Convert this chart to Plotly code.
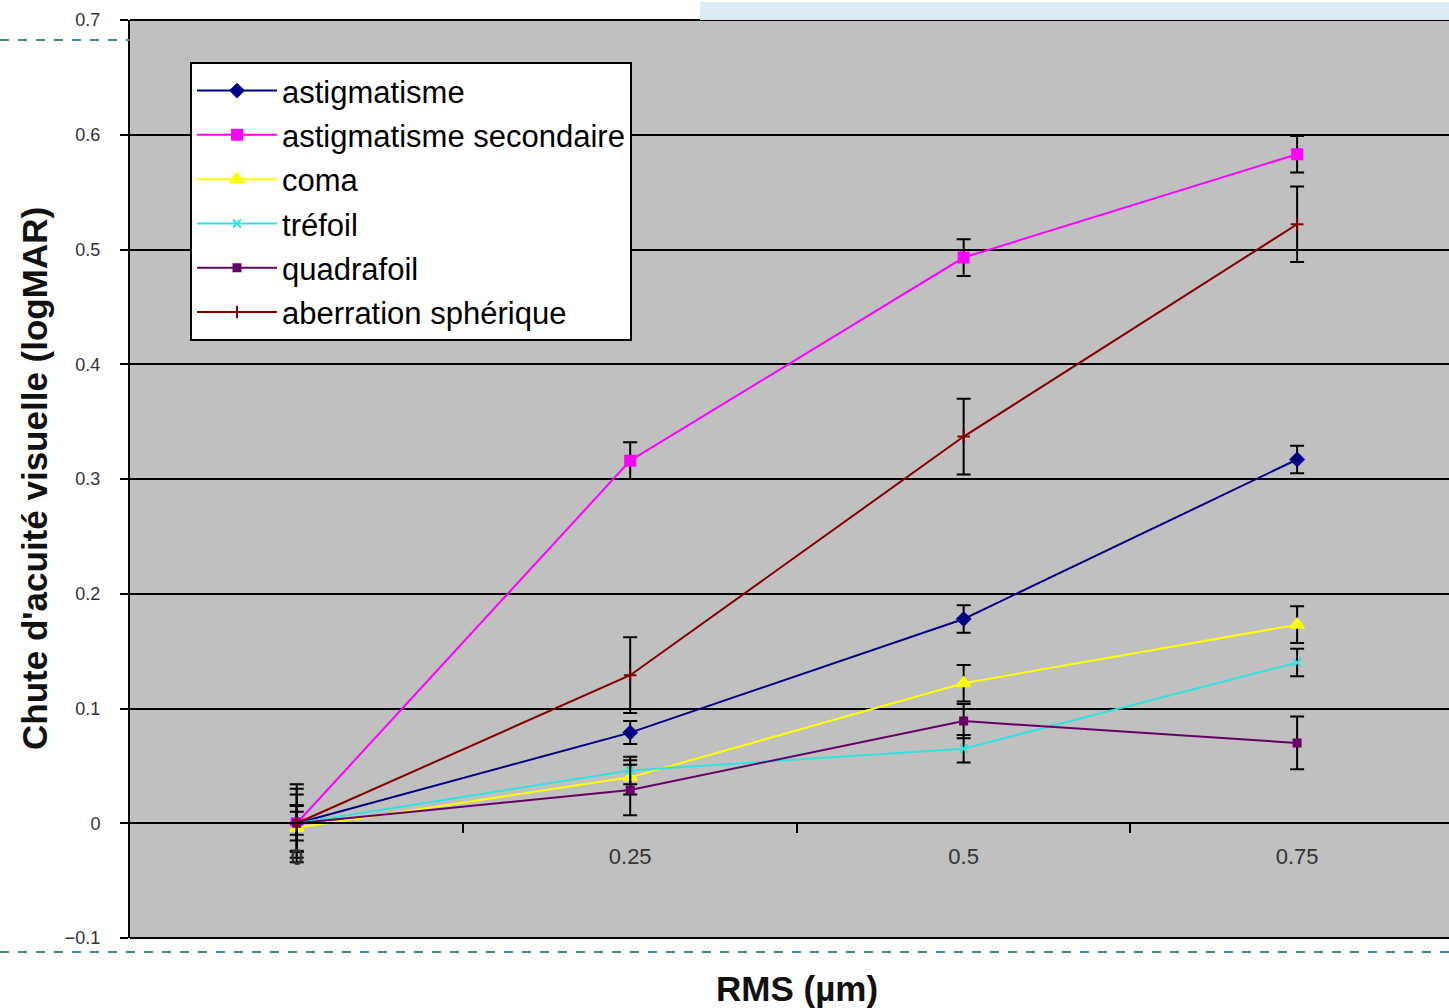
import plotly.graph_objects as go

rms = [0, 0.25, 0.5, 0.75]
rms_labels = ["0", "0.25", "0.5", "0.75"]

names = ["astigmatisme", "astigmatisme secondaire", "coma", "tréfoil",
         "quadrafoil", "aberration sphérique"]

astig = [0.0, 0.079, 0.178, 0.317]
astig_err = [0.010, 0.010, 0.012, 0.012]
astig2 = [0.0, 0.316, 0.493, 0.583]
astig2_err = [0.015, 0.016, 0.016, 0.016]
coma = [-0.004, 0.040, 0.122, 0.173]
coma_err = [0.020, 0.015, 0.016, 0.016]
trefoil = [0.0, 0.046, 0.065, 0.140]
trefoil_err = [0.025, 0.012, 0.012, 0.012]
quadrafoil = [0.0, 0.029, 0.089, 0.070]
quadrafoil_err = [0.030, 0.022, 0.015, 0.023]
aberration = [0.0, 0.129, 0.337, 0.522]
aberration_err = [0.034, 0.033, 0.033, 0.033]

series = [astig, astig2, coma, trefoil, quadrafoil, aberration]
errors = [astig_err, astig2_err, coma_err, trefoil_err, quadrafoil_err, aberration_err]
colors = ["#000080", "#FF00FF", "#FFFF00", "#33E0E0", "#660066", "#800000"]
symbols = ["diamond", "square", "triangle-up", "x-thin", "square", "cross-thin"]
sizes = [10, 10, 12, 8, 7, 9]

fig = go.Figure()
for i, (nm, ys, er) in enumerate(zip(names, series, errors)):
    fig.add_trace(go.Scatter(
        x=rms, y=ys, name=nm, mode="lines+markers",
        line=dict(color=colors[i], width=2),
        marker=dict(symbol=symbols[i], size=sizes[i], color=colors[i],
                    line=dict(color=colors[i], width=2)),
        error_y=dict(type="data", array=er, visible=True, color="black",
                     thickness=2, width=7),
        legendgroup=f"g{i}",
    ))

x_right = 0.75 + 152 / 333.7 * 0.25

fig.update_layout(
    width=1449, height=1008,
    margin=dict(l=130, r=0, t=20, b=70),
    paper_bgcolor="white",
    plot_bgcolor="#C0C0C0",
    font=dict(family="Liberation Sans, Arial, sans-serif", color="#222"),
    showlegend=True,
    legend=dict(
        x=0.0455, y=0.95 + 4 / 918, xanchor="left", yanchor="top",
        bgcolor="white", bordercolor="black", borderwidth=2,
        font=dict(size=31, color="black"),
        itemwidth=80, tracegroupgap=1,
    ),
    xaxis=dict(
        range=[-0.125, x_right], tickvals=rms, ticktext=rms_labels,
        ticks="", showgrid=False, zeroline=False,
        anchor="free", position=0.125, showline=True, linecolor="black",
        linewidth=2, tickfont=dict(size=22, color="#333"),
        ticklabelstandoff=13,
        minor=dict(tickvals=[0.125, 0.375, 0.625], ticks="outside",
                   ticklen=9, tickcolor="black", tickwidth=2),
    ),
    yaxis=dict(
        range=[-0.1, 0.7], dtick=0.1, tick0=0, showgrid=True,
        gridcolor="black", gridwidth=2, zeroline=False,
        showline=True, linecolor="black", linewidth=2,
        ticks="outside", ticklen=8, tickcolor="black", tickwidth=2,
        tickfont=dict(size=18, color="#333"), ticklabelstandoff=16,
    ),
)

# x tick label at 0 (hidden by plotly at the axis crossing)
fig.add_annotation(text=rms_labels[0], x=rms[0], y=0, xref="x", yref="y",
                   yshift=-34, showarrow=False, xanchor="center", yanchor="middle",
                   font=dict(size=22, color="#333"))

# plot-area border lines (top and bottom)
for yy in [0, 1]:
    fig.add_shape(type="line", xref="paper", yref="paper", x0=0, x1=1,
                  y0=yy, y1=yy, line=dict(color="black", width=2), layer="below")

# slide decoration: light blue header band and dashed lines
fig.add_shape(type="rect", xref="paper", yref="paper",
              x0=(700 - 130) / 1319, x1=1, y0=1, y1=1 + 18 / 918,
              fillcolor="#dcecf5", line=dict(width=0), layer="below")
fig.add_shape(type="line", xref="paper", yref="paper",
              x0=-130 / 1319, x1=0, y0=1 - 20 / 918, y1=1 - 20 / 918,
              line=dict(color="#4a7f90", width=2, dash="dash"))
fig.add_shape(type="line", xref="paper", yref="paper",
              x0=-130 / 1319, x1=1, y0=-14 / 918, y1=-14 / 918,
              line=dict(color="#4a7f90", width=2, dash="dash"))

fig.add_annotation(text="<b>RMS (µm)</b>", xref="paper", yref="paper",
                   x=(797 - 130) / 1319, y=-50 / 918, xanchor="center", yanchor="middle",
                   showarrow=False, font=dict(size=35, color="#111"))
fig.add_annotation(text="<b>Chute d'acuité visuelle (logMAR)</b>", xref="paper", yref="paper",
                   x=-96 / 1319, y=0.5, xanchor="center", yanchor="middle",
                   textangle=-90, showarrow=False, font=dict(size=35, color="#111"))

fig.write_html("out.html", config={"displayModeBar": False},
               post_script="document.body.style.margin='0px';")
